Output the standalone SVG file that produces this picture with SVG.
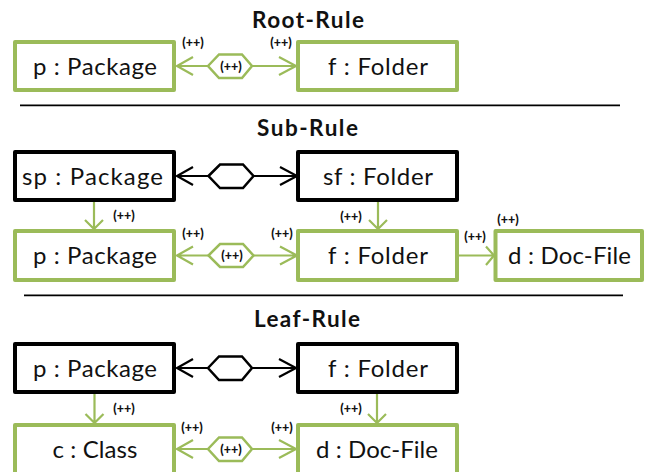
<svg xmlns="http://www.w3.org/2000/svg" width="645" height="472" viewBox="0 0 645 472">
<style>
text{font-family:"Lato","Open Sans","Liberation Sans",sans-serif;fill:#111;text-anchor:middle}
.n{font-size:24px}
.t{font-size:22.500px;font-weight:700}
.m{font-size:12.500px;font-weight:900}
.g,.b{fill:#fff;stroke-width:4;stroke-linejoin:round}
.g{stroke:#9bbb59}.b{stroke:#000}
.h{fill:#fff;stroke-width:2.5}
.cg,.cb{fill:none;stroke-width:2.2}
.cg,.hg{stroke:#9bbb59}.cb,.hb{stroke:#000}
.r{stroke:#000;stroke-width:1.8}
</style>
<g id="titles">
<text class="t" x="308" y="28" textLength="112" lengthAdjust="spacing">Root-Rule</text>
<text class="t" x="307.500" y="136" textLength="101" lengthAdjust="spacing">Sub-Rule</text>
<text class="t" x="307" y="327" textLength="106" lengthAdjust="spacing">Leaf-Rule</text>
</g>
<line class="r" x1="20" y1="105.3" x2="620" y2="105.3"/>
<line class="r" x1="24" y1="295.3" x2="623" y2="295.3"/>
<g id="connectors">
<path class="cg" d="M208 66H177M193 57L177 66L193 75M252 66H296M279 57L296 66L279 75"/>
<path class="cb" d="M208 176H177M193 167L177 176L193 185M253 176H297M280 167L297 176L280 185"/>
<path class="cg" d="M94 202V229M85 220L94 229L103 220M378 202V229M369 220L378 229L387 220"/>
<path class="cg" d="M208 255.5H177M193 246.500L177 255.5L193 264.500M253 255.5H297M280 246.500L297 255.5L280 264.500M459 255.500H494M486 246.500L494 255.5L486 265"/>
<path class="cb" d="M208 368H177M193 359L177 368L193 377M252 368H296M279 359L296 368L279 377"/>
<path class="cg" d="M94.500 393V423M85.500 414L94.500 423L103.500 414M377 393V423M368 414L377 423L386 414"/>
<path class="cg" d="M208 449H177M193 440L177 449L193 458M252 449H296M279 440L296 449L279 458"/>
</g>
<g id="hex-root"><polygon class="h hg" points="208,66 219,54.500 242,54.500 252,66 242,78 219,78"/><text class="m" x="231" y="70.500">(++)</text></g>
<g id="hex-sub-black"><polygon class="h hb" points="208.500,176 220,164.500 243,164.500 253.500,176 243,188 220,188"/></g>
<g id="hex-sub-green"><polygon class="h hg" points="208.500,255.500 220,244 243,244 253.500,255.500 243,267 220,267"/><text class="m" x="232" y="260">(++)</text></g>
<g id="hex-leaf-black"><polygon class="h hb" points="208,368 219,356.500 242,356.500 252,368 242,380 219,380"/></g>
<g id="hex-leaf-green"><polygon class="h hg" points="208,449 219,437.500 242,437.500 252,449 242,461 219,461"/><text class="m" x="231" y="453.500">(++)</text></g>
<g id="root-p"><rect class="g" x="15" y="42" width="159" height="48"/><text class="n" x="95" y="75" textLength="124" lengthAdjust="spacing">p : Package</text></g>
<g id="root-f"><rect class="g" x="298" y="42" width="159" height="48"/><text class="n" x="378" y="75" textLength="100" lengthAdjust="spacing">f : Folder</text></g>
<g id="sub-sp"><rect class="b" x="15" y="152" width="159" height="48"/><text class="n" x="92.500" y="185" textLength="141" lengthAdjust="spacing">sp : Package</text></g>
<g id="sub-sf"><rect class="b" x="298" y="152" width="159" height="48"/><text class="n" x="378" y="185" textLength="110" lengthAdjust="spacing">sf : Folder</text></g>
<g id="sub-p"><rect class="g" x="15" y="231" width="159" height="49"/><text class="n" x="95" y="264" textLength="124" lengthAdjust="spacing">p : Package</text></g>
<g id="sub-f"><rect class="g" x="298" y="231" width="159" height="49"/><text class="n" x="378" y="264" textLength="100" lengthAdjust="spacing">f : Folder</text></g>
<g id="sub-d"><rect class="g" x="495.500" y="231" width="146.500" height="49"/><text class="n" x="569.500" y="264" textLength="123" lengthAdjust="spacing">d : Doc-File</text></g>
<g id="leaf-p"><rect class="b" x="15" y="344" width="159" height="48"/><text class="n" x="95" y="377" textLength="124" lengthAdjust="spacing">p : Package</text></g>
<g id="leaf-f"><rect class="b" x="298" y="344" width="159" height="48"/><text class="n" x="378" y="377" textLength="100" lengthAdjust="spacing">f : Folder</text></g>
<g id="leaf-c"><rect class="g" x="15" y="425" width="159" height="49"/><text class="n" x="95" y="458" textLength="85" lengthAdjust="spacing">c : Class</text></g>
<g id="leaf-d"><rect class="g" x="298" y="425" width="159" height="49"/><text class="n" x="377" y="458" textLength="122" lengthAdjust="spacing">d : Doc-File</text></g>
<g id="labels">
<text class="m" x="193" y="47">(++)</text>
<text class="m" x="281" y="47">(++)</text>
<text class="m" x="124" y="220">(++)</text>
<text class="m" x="351" y="221">(++)</text>
<text class="m" x="193" y="238">(++)</text>
<text class="m" x="282" y="238">(++)</text>
<text class="m" x="475" y="241">(++)</text>
<text class="m" x="508" y="224">(++)</text>
<text class="m" x="124" y="413">(++)</text>
<text class="m" x="351" y="413">(++)</text>
<text class="m" x="192" y="432">(++)</text>
<text class="m" x="282" y="432">(++)</text>
</g>
</svg>
